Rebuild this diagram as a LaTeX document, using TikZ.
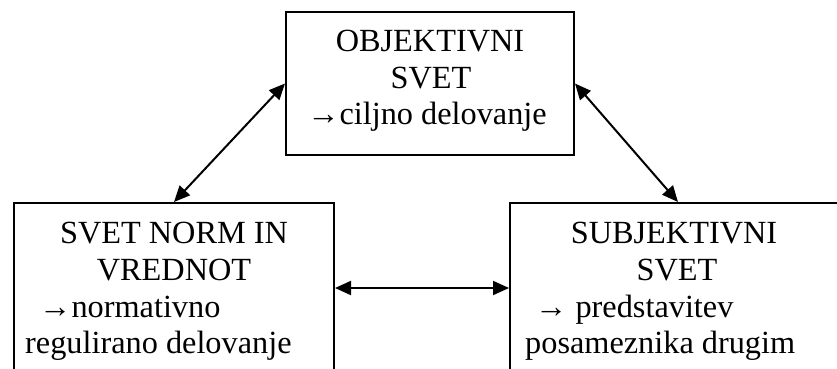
\documentclass[tikz,border=0pt]{standalone}
\usepackage{fontspec}
\setmainfont{Liberation Serif}
\usetikzlibrary{arrows.meta}
\begin{document}
\begin{tikzpicture}[x=1pt,y=-1pt,
  box/.style={draw=black,line width=2pt,rectangle,inner sep=0pt},
  txt/.style={inner sep=0pt,font=\fontsize{32.3}{36}\selectfont},
  conn/.style={line width=2pt,{Triangle[length=16pt,width=14pt]}-{Triangle[length=16pt,width=14pt]}}]
\clip (0,0) rectangle (837,368);
\fill[white] (0,0) rectangle (837,368);
\node[box,minimum width=288pt,minimum height=143pt] (top) at (430,83.5) {};
\node[box,minimum width=320pt,minimum height=170pt] (left) at (174,288) {};
\node[box,minimum width=336pt,minimum height=170pt] (right) at (678,288) {};
% top texts
\node[txt,anchor=base] (t1) at (430,51) {OBJEKTIVNI};
\node[txt,anchor=base] (t2) at (431,88) {SVET};
\node[txt,anchor=base] (t3) at (427,124) {→ciljno delovanje};
% left texts
\node[txt,anchor=base] (l1) at (174,243) {SVET NORM IN};
\node[txt,anchor=base] (l2) at (174,280) {VREDNOT};
\node[txt,anchor=base west] (l3) at (39,317) {→normativno};
\node[txt,anchor=base west] (l4) at (25,353) {regulirano delovanje};
% right texts
\node[txt,anchor=base] (r1) at (674,243) {SUBJEKTIVNI};
\node[txt,anchor=base] (r2) at (677,280) {SVET};
\node[txt,anchor=base west] (r3) at (535,317) {→ predstavitev};
\node[txt,anchor=base west] (r4) at (525,353) {posameznika drugim};
% connectors
\draw[conn] (top.west) -- (left.north);
\draw[conn] (top.east) -- (right.north);
\draw[conn] (left.east) -- (right.west);
\end{tikzpicture}
\end{document}
